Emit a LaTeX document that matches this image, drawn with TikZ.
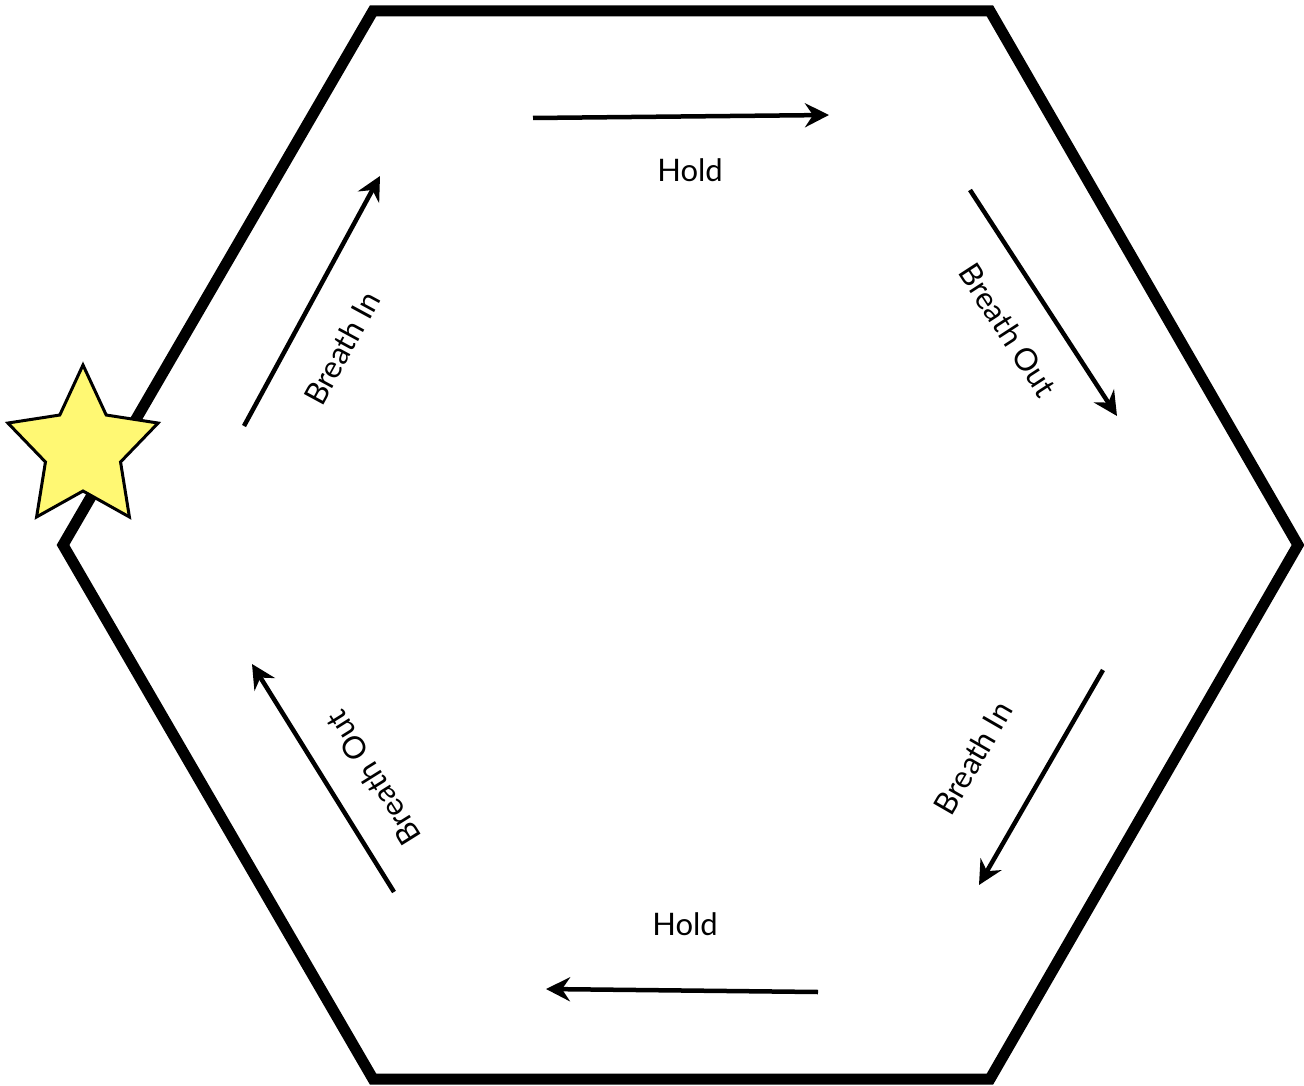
\documentclass[tikz,border=0pt]{standalone}
\usepackage{fontspec}
\setmainfont{Lato}
\usetikzlibrary{arrows.meta}
\begin{document}
\begin{tikzpicture}[x=1pt,y=-1pt,
  hexline/.style={line width=11pt, line join=miter},
  flow/.style={line width=4.5pt, -{Stealth[length=24pt,width=24pt,inset=8pt]}},
  lbl/.style={font=\fontsize{31}{36}\selectfont, inner sep=0pt},
  starfill/.style={draw=black, line width=3pt, fill=yellow!55!white, line join=miter}]
\useasboundingbox (0,0) rectangle (1304,1086);
% hexagon
\draw[hexline] (373,11) -- (990,11) -- (1298,545) -- (990,1079) -- (373,1079) -- (63,545) -- cycle;
% star
\begin{scope}[shift={(83,449)}, xscale=0.94, yscale=-1]
\draw[starfill] (90:84) -- (126:42) -- (162:84) -- (198:42) -- (234:84) -- (270:42)
  -- (306:84) -- (342:42) -- (18:84) -- (54:42) -- cycle;
\end{scope}
% arrow endpoints
\coordinate (a1) at (244,426); \coordinate (b1) at (380,176);
\coordinate (a2) at (533,118); \coordinate (b2) at (829,115);
\coordinate (a3) at (970,190); \coordinate (b3) at (1117,416);
\coordinate (a4) at (1103,670); \coordinate (b4) at (979,885);
\coordinate (a5) at (818,992); \coordinate (b5) at (546,989);
\coordinate (a6) at (394,892); \coordinate (b6) at (252,664);
\draw[flow] (a1) -- (b1);
\draw[flow] (a2) -- (b2);
\draw[flow] (a3) -- (b3);
\draw[flow] (a4) -- (b4);
\draw[flow] (a5) -- (b5);
\draw[flow] (a6) -- (b6);
% labels
\node[lbl, rotate=61.5] (l1) at (342,348) {Breath In};
\node[lbl] (l2) at (690,170) {Hold};
\node[lbl, rotate=-57] (l3) at (1008,330) {Breath Out};
\node[lbl, rotate=60] (l4) at (973,758) {Breath In};
\node[lbl] (l5) at (685,924) {Hold};
\node[lbl, rotate=122] (l6) at (373,778) {Breath Out};
\end{tikzpicture}
\end{document}
